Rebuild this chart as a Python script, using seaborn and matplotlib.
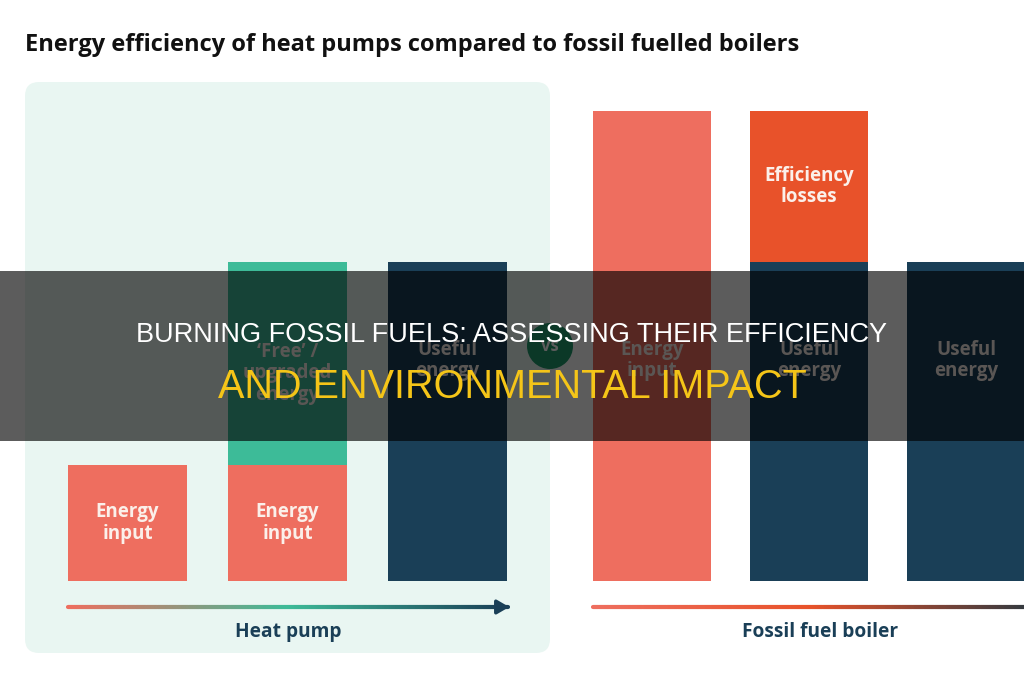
import numpy as np
import pandas as pd
import seaborn as sns
import matplotlib
matplotlib.use("Agg")
import matplotlib.pyplot as plt
from matplotlib.patches import FancyBboxPatch, Rectangle, Circle
from matplotlib.collections import LineCollection
from matplotlib.colors import LinearSegmentedColormap

# ---------------- data ----------------
hp_categories = ["Energy input", "Energy input + free", "Useful energy"]
hp_lower = [1.0, 1.0, 2.75]          # energy input / useful energy segment
hp_upper = [0.0, 1.75, 0.0]          # free / upgraded energy segment
fossil_categories = ["Energy input", "Useful + losses", "Useful energy"]
fossil_lower = [4.05, 2.75, 2.75]    # energy input / useful energy segment
fossil_upper = [0.0, 1.3, 0.0]       # efficiency losses segment

title = "Energy efficiency of heat pumps compared to fossil fuelled boilers"
banner_line1 = "BURNING FOSSIL FUELS: ASSESSING THEIR EFFICIENCY"
banner_line2 = "AND ENVIRONMENTAL IMPACT"

SALMON = "#EE6E5F"
GREEN = "#3DBB98"
NAVY = "#1A3F57"
ORANGE = "#E8522A"
PANEL = "#E9F6F2"
TXT = "#FBF0EA"

sns.set_theme(style="white")
plt.rcParams["font.family"] = ["Open Sans", "DejaVu Sans"]

W, H = 1024, 680
fig = plt.figure(figsize=(W / 100, H / 100), dpi=100)
fig.patch.set_facecolor("white")

# background / decoration axes in pixel coordinates
bg = fig.add_axes([0, 0, 1, 1], zorder=-1)
bg.set_xlim(0, W)
bg.set_ylim(H, 0)
bg.axis("off")

bg.add_patch(FancyBboxPatch((25, 82), 525, 571, boxstyle="round,pad=0,rounding_size=14",
                            facecolor=PANEL, edgecolor="none"))

def gradient_line(ax, x0, x1, y, colors, lw=3):
    xs = np.linspace(x0, x1, 200)
    pts = np.array([xs, np.full_like(xs, y)]).T.reshape(-1, 1, 2)
    segs = np.concatenate([pts[:-1], pts[1:]], axis=1)
    cmap = LinearSegmentedColormap.from_list("g", colors)
    lc = LineCollection(segs, colors=cmap(np.linspace(0, 1, len(segs))), linewidths=lw,
                        capstyle="round")
    ax.add_collection(lc)

gradient_line(bg, 68, 508, 607, [SALMON, GREEN, NAVY])
bg.annotate("", xy=(512, 607), xytext=(500, 607),
            arrowprops=dict(arrowstyle="-|>,head_length=0.6,head_width=0.35", color=NAVY, lw=2.5))
gradient_line(bg, 593, 1030, 607, [SALMON, ORANGE, "#333a40"])

bg.text(288, 632, "Heat pump", ha="center", va="center", fontsize=13.8, fontweight="bold", color=NAVY)
bg.text(820, 632, "Fossil fuel boiler", ha="center", va="center", fontsize=13.8, fontweight="bold",
        color=NAVY)

bg.add_patch(Circle((550, 346), 23, facecolor="#1f9b6c", edgecolor="none"))
bg.text(550, 346, "vs", ha="center", va="center", fontsize=12, fontweight="bold", color="white")

fig.text(25 / W, 1 - 45 / H, title, ha="left", va="center", fontsize=17, fontweight="bold",
         color="#111111")

# ---------------- bars ----------------
base_px = 581
unit_px = 116
ymax = 4.5
ax_h = ymax * unit_px

def bar_axes(center0, spacing):
    left = center0 - spacing / 2
    width = spacing * 3
    ax = fig.add_axes([left / W, 1 - base_px / H, width / W, ax_h / H], zorder=1)
    ax.patch.set_alpha(0)
    return ax

ax1 = bar_axes(127.5, 160)
df_hp = pd.DataFrame({"cat": hp_categories,
                      "lower": hp_lower,
                      "total": np.add(hp_lower, hp_upper)})
sns.barplot(data=df_hp, x="cat", y="total", ax=ax1, width=119 / 160,
            palette=[SALMON, GREEN, NAVY], hue="cat", legend=False, saturation=1)
sns.barplot(data=df_hp, x="cat", y="lower", ax=ax1, width=119 / 160,
            palette=[SALMON, SALMON, NAVY], hue="cat", legend=False, saturation=1)

ax2 = bar_axes(652, 157)
df_ff = pd.DataFrame({"cat": fossil_categories,
                      "lower": fossil_lower,
                      "total": np.add(fossil_lower, fossil_upper)})
sns.barplot(data=df_ff, x="cat", y="total", ax=ax2, width=118 / 157,
            palette=[SALMON, ORANGE, NAVY], hue="cat", legend=False, saturation=1)
sns.barplot(data=df_ff, x="cat", y="lower", ax=ax2, width=118 / 157,
            palette=[SALMON, NAVY, NAVY], hue="cat", legend=False, saturation=1)

for ax in (ax1, ax2):
    ax.set_xlim(-0.5, 2.5)
    ax.set_ylim(0, ymax)
    ax.axis("off")
    for p in ax.patches:
        p.set_edgecolor("none")

lab = dict(ha="center", va="center", fontsize=13.5, fontweight="bold", color=TXT, linespacing=1.1)
ax1.text(0, hp_lower[0] / 2, "Energy\ninput", **lab)
ax1.text(1, hp_lower[1] / 2, "Energy\ninput", **lab)
ax1.text(1, 1.79, "\u2018Free\u2019 /\nupgraded\nenergy", **lab)
ax1.text(2, 1.9, "Useful\nenergy", **lab)
ax2.text(0, 1.9, "Energy\ninput", **lab)
ax2.text(1, 1.9, "Useful\nenergy", **lab)
ax2.text(1, fossil_lower[1] + fossil_upper[1] / 2, "Efficiency\nlosses", **lab)
ax2.text(2, 1.9, "Useful\nenergy", **lab)

# ---------------- banner overlay ----------------
fig.add_artist(Rectangle((0, 1 - 441 / H), 1, 170 / H, transform=fig.transFigure,
                         facecolor="black", alpha=0.64, edgecolor="none", zorder=5))
fig.text(0.5, 1 - 335 / H, banner_line1, ha="center", va="center", fontsize=19.5,
         color="white", zorder=6, family=["Liberation Sans", "DejaVu Sans"])
fig.text(0.5, 1 - 387 / H, banner_line2, ha="center", va="center", fontsize=28.5,
         color="#F5C518", zorder=6, family=["Liberation Sans", "DejaVu Sans"])

fig.savefig("out.png", dpi=100)
